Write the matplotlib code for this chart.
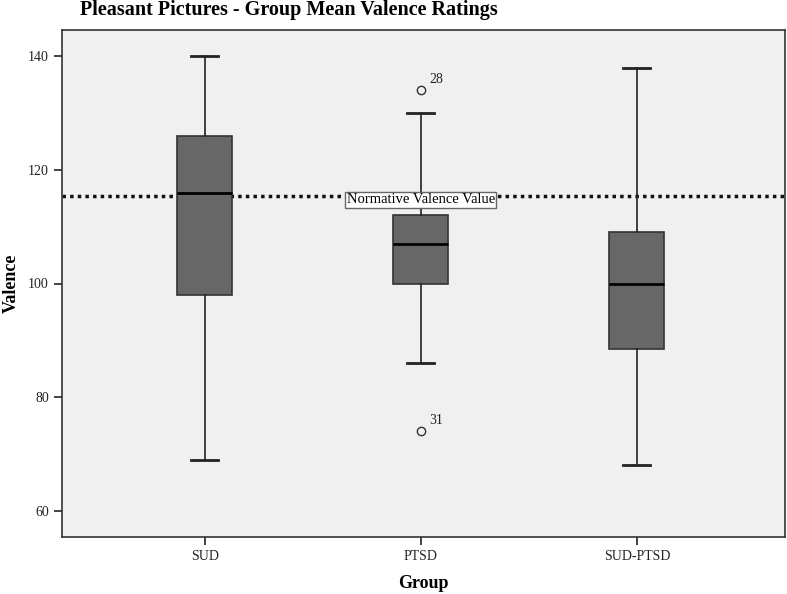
import matplotlib
matplotlib.use("Agg")
import matplotlib.pyplot as plt

groups = ["SUD", "PTSD", "SUD-PTSD"]
whislo = [69, 86, 68]
q1 = [98, 100, 88.5]
med = [116, 107, 100]
q3 = [126, 112, 109]
whishi = [140, 130, 138]
outliers = [[], [134, 74], []]
outlier_ids = [[], ["28", "31"], []]
normative_value = 115.4
yticks = [60, 80, 100, 120, 140]

plt.rcParams['font.family'] = ['Liberation Serif', 'DejaVu Serif']

fig = plt.figure(figsize=(7.87, 5.94), dpi=100)
ax = fig.add_axes([62/787, 1-537/594, (785-62)/787, (537-30)/594])
ax.set_facecolor('#f0f0f0')

stats = []
for i, g in enumerate(groups):
    stats.append(dict(label=g, whislo=whislo[i], q1=q1[i], med=med[i],
                      q3=q3[i], whishi=whishi[i], fliers=outliers[i]))

ax.bxp(stats, positions=range(len(groups)), widths=0.255, patch_artist=True,
       boxprops=dict(facecolor='#676767', edgecolor='#333333', linewidth=1.2),
       medianprops=dict(color='black', linewidth=2),
       whiskerprops=dict(color='#222222', linewidth=1.2),
       capprops=dict(color='#222222', linewidth=2),
       capwidths=0.125,
       flierprops=dict(marker='o', markersize=6, markerfacecolor='none',
                       markeredgecolor='#333333', markeredgewidth=1))

for i in range(len(groups)):
    for v, lab in zip(outliers[i], outlier_ids[i]):
        ax.annotate(lab, (i, v), xytext=(6, 5), textcoords='offset points',
                    fontsize=10, color='#222222')

ax.axhline(normative_value, color='#111111', linestyle=(0, (1, 1.2)), linewidth=2.5, zorder=1)
ax.text(1, normative_value - 0.7, "Normative Valence Value", ha='center', va='center',
        fontsize=10.5, color='black',
        bbox=dict(boxstyle='square,pad=0.1', facecolor='white', edgecolor='#666666', linewidth=1))

ax.set_xlim(-0.66, 2.685)
ax.set_ylim(55.4, 144.6)
ax.set_yticks(yticks)
ax.set_yticklabels([str(t) for t in yticks], fontsize=10)
ax.set_xticks(range(len(groups)))
ax.set_xticklabels(groups, fontsize=10)
ax.tick_params(direction='out', length=6, width=1.2, color='#222222', labelcolor='#222222')
for s in ax.spines.values():
    s.set_color('#333333')
    s.set_linewidth(1.2)

ax.set_ylabel("Valence", fontsize=13, fontweight='bold', labelpad=6)
fig.text(423/787, 1-583/594, "Group", ha='center', va='center', fontsize=13, fontweight='bold')
fig.text(289/787, 1-10/594, "Pleasant Pictures - Group Mean Valence Ratings",
         ha='center', va='center', fontsize=14.5, fontweight='bold')

fig.savefig("out.png", dpi=100, facecolor='white')
